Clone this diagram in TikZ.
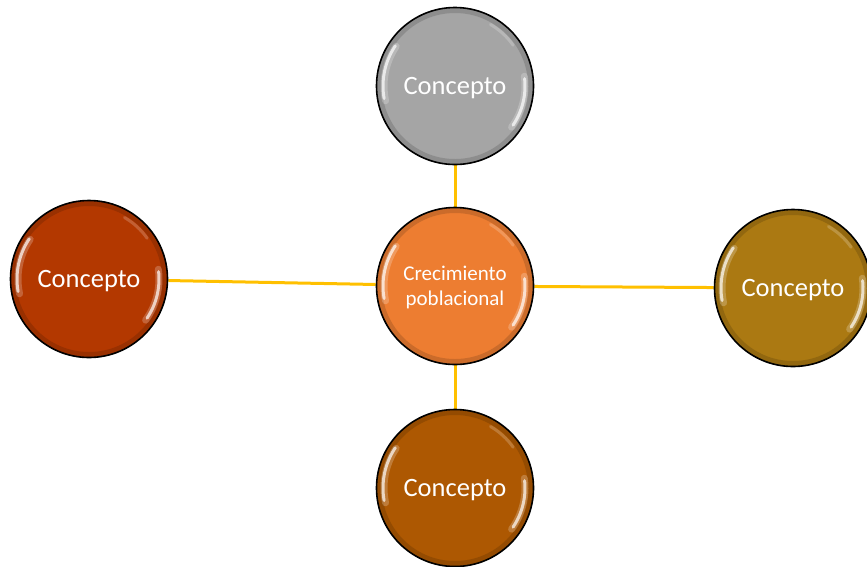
\documentclass[tikz,border=0pt]{standalone}
\usepackage{fontspec}
\setmainfont{Carlito}
\definecolor{cgray}{RGB}{165,165,165}
\definecolor{corange}{RGB}{237,125,49}
\definecolor{cred}{RGB}{179,56,0}
\definecolor{cgold}{RGB}{171,121,18}
\definecolor{cbrown}{RGB}{173,88,2}
\definecolor{clink}{RGB}{255,192,0}
\begin{document}
\begin{tikzpicture}[x=1pt,y=-1pt,
  ball/.style={circle,draw=black,line width=1.6pt,minimum size=157pt,inner sep=0pt,
    text=white,align=center,text depth=0pt},
  link/.style={draw=clink,line width=3pt},
  rim/.style={line width=5pt,opacity=0.14},
  hl/.style={draw=white,line width=3pt,line cap=round,opacity=0.7},
  hlsoft/.style={draw=white,line width=7pt,line cap=round,opacity=0.22}]
\useasboundingbox (0,0) rectangle (867,566);
\path (455,286) coordinate (pc) (455,86) coordinate (pt) (89,279) coordinate (pl)
      (793,288) coordinate (pr) (455,488) coordinate (pb);
% invisible placeholders so connectors end at the circle rims
\node[ball,draw=none] (c) at (pc) {};
\node[ball,draw=none] (t) at (pt) {};
\node[ball,draw=none] (l) at (pl) {};
\node[ball,draw=none] (r) at (pr) {};
\node[ball,draw=none] (b) at (pb) {};
\draw[link] (t) -- (c);
\draw[link] (l) -- (c);
\draw[link] (c) -- (r);
\draw[link] (c) -- (b);
\foreach \p/\col/\txt/\fs in {pc/corange/{Crecimiento\\poblacional}/{\fontsize{21}{25}\selectfont},
   pt/cgray/Concepto/{\fontsize{26.5}{30}\selectfont},pl/cred/Concepto/{\fontsize{26.5}{30}\selectfont},
   pr/cgold/Concepto/{\fontsize{26.5}{30}\selectfont},pb/cbrown/Concepto/{\fontsize{26.5}{30}\selectfont}}{
  \node[ball,fill=\col,font=\fs] at (\p) {\txt};
  \begin{scope}[shift={(\p)},yscale=-1]
    \draw[rim,draw=black] (0,0) circle (75.5);
    \draw[hlsoft] (146:71) arc (146:192:71);
    \draw[hl] (146:72) arc (146:190:72);
    \draw[hlsoft] (-36:70) arc (-36:8:70);
    \draw[hl] (-34:70) arc (-34:6:70);
    \draw[white,opacity=0.2,line width=3pt,line cap=round] (35:71) arc (35:60:71);
  \end{scope}
}
\end{tikzpicture}
\end{document}
